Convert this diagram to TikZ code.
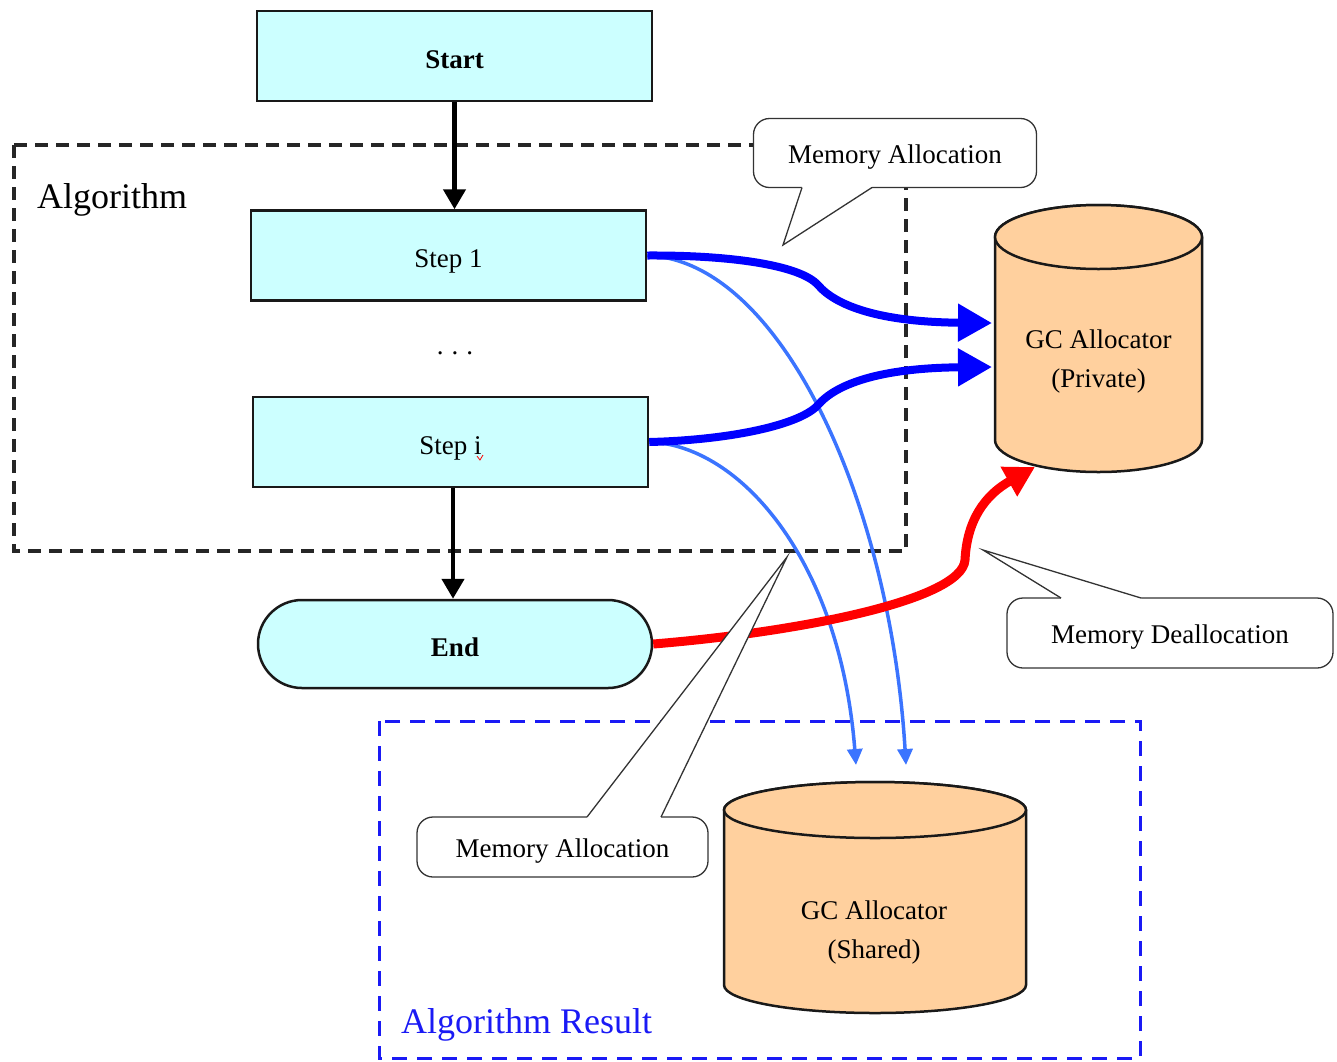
\documentclass[tikz,border=0pt]{standalone}
\usepackage{fontspec}
\setmainfont{Liberation Serif}
\usetikzlibrary{arrows.meta,shapes.misc,calc}
\definecolor{boxcyan}{HTML}{CCFFFF}
\definecolor{peach}{HTML}{FFD09E}
\definecolor{thickblue}{HTML}{0000FF}
\definecolor{lightblue}{HTML}{3B74FF}
\definecolor{resblue}{HTML}{1A1AF5}
\begin{document}
\begin{tikzpicture}[x=1pt,y=-1pt,
  txt/.style={font=\fontsize{27}{40}\selectfont},
  bigtxt/.style={font=\fontsize{36}{40}\selectfont},
  flowbox/.style={draw=black!90, line width=2.5pt, fill=boxcyan, minimum width=395pt, minimum height=90pt, inner sep=0pt, txt, text height=27pt, text depth=3pt},
  endbox/.style={rounded rectangle, draw=black!90, line width=2.5pt, fill=boxcyan, minimum width=394pt, minimum height=88pt, inner sep=0pt, txt, text height=27pt, text depth=3pt},
  cyl/.style={draw=black!90, line width=2.5pt, fill=peach},
  algbox/.style={draw=black!85, line width=3.5pt, dash pattern=on 13pt off 8pt},
  resbox/.style={draw=resblue, line width=3pt, dash pattern=on 15pt off 10pt},
  flowarrow/.style={draw=black, line width=4.5pt, -{Triangle[length=20pt,width=22pt]}},
  bluethick/.style={draw=thickblue, line width=8pt, -{Triangle[length=34pt,width=36pt]}},
  bluethin/.style={draw=lightblue, line width=3.5pt, -{Triangle[length=16pt,width=15pt]}},
  redarrow/.style={draw=red, line width=9pt, -{Triangle[length=30pt,width=32pt]}},
  callout/.style={draw=black!80, line width=1.3pt, fill=white, rounded corners=16pt, inner sep=0pt, txt, text height=24pt, text depth=4pt},
  calline/.style={draw=black!80, line width=1.3pt, line join=miter}
]
\useasboundingbox (0,0) rectangle (1337,1061);

% dashed containers
\draw[algbox] (14,145) rectangle (906,551);
\node[bigtxt, anchor=base west, inner sep=0pt] (alglabel) at (37,208) {Algorithm};
\draw[resbox] (379,721) rectangle (1140,1058);
\node[bigtxt, anchor=base west, inner sep=0pt, text=resblue] (reslabel) at (401,1033) {Algorithm Result};

% private cylinder
\draw[cyl] (995,237) -- (995,440) arc (180:360:103.5pt and 32pt) -- (1202,237) arc (0:180:103.5pt and 32pt) -- cycle;
\draw[cyl] (1098.5,237) ellipse [x radius=103.5pt, y radius=32pt];
\node[txt, anchor=base] (privA) at (1098.5,348) {GC Allocator};
\node[txt, anchor=base] (privB) at (1098.5,387) {(Private)};

% shared cylinder
\draw[cyl] (724,810) -- (724,985) arc (180:360:151pt and 28pt) -- (1026,810) arc (0:180:151pt and 28pt) -- cycle;
\draw[cyl] (875,810) ellipse [x radius=151pt, y radius=28pt];
\node[txt, anchor=base] (sharedA) at (874,919) {GC Allocator};
\node[txt, anchor=base] (sharedB) at (874,958) {(Shared)};

% flow nodes
\node[flowbox] (start) at (454.5,56) {\textbf{Start}};
\node[flowbox] (s1) at (448.5,255.5) {Step 1};
\node[txt, anchor=base] (dots) at (455,354) {.\hspace{8pt}.\hspace{8pt}.};
\node[flowbox] (si) at (450.5,442) {Step i};
\draw[red, line width=0.8pt] (477,456) -- (480,460) -- (483,455);
\node[endbox] (end) at (455,644) {\textbf{End}};

% coordinates for free arrow ends
\coordinate (p1) at (992,323);
\coordinate (p2) at (992,367);
\coordinate (sh1) at (906,765);
\coordinate (sh2) at (856,765);
\coordinate (pd) at (1035,467);

% flow arrows
\draw[flowarrow] (start.south) -- (start.south |- s1.north);
\draw[flowarrow] (si.south -| 453,0) -- (end.north -| 453,0);

% memory arrows
\draw[bluethin] (s1.east) .. controls (780,260) and (890,500) .. (sh1);
\draw[bluethin] (si.east) .. controls (740,445) and (840,560) .. (sh2);
\draw[bluethick] (s1.east) .. controls (730,255) and (800,265) .. (818,285) .. controls (836,306) and (880,322) .. (p1);
\draw[bluethick] (si.east) .. controls (730,440) and (800,425) .. (818,405) .. controls (836,384) and (880,368) .. (p2);
\draw[redarrow] (end.east) .. controls (800,632) and (962,600) .. (965,560) .. controls (967,520) and (985,495) .. (pd);

% callouts
\node[callout, minimum width=283pt, minimum height=69pt] (ma1) at (895,153) {Memory Allocation};
\fill[white] (802,180) -- (802,187) -- (783,245) -- (872,187) -- (872,180) -- cycle;
\draw[calline] (802,187.5) -- (783,245) -- (872,187.5);

\node[callout, minimum width=291pt, minimum height=60pt] (ma2) at (562.5,847) {Memory Allocation};
\fill[white] (587,823) -- (587,817) -- (787,557) -- (661,817) -- (661,823) -- cycle;
\draw[calline] (587,817) -- (787,557) -- (661,817);

\node[callout, minimum width=326pt, minimum height=70pt] (md) at (1170,633) {Memory Deallocation};
\fill[white] (1061,604) -- (1061,598) -- (983,550) -- (1141,598) -- (1141,604) -- cycle;
\draw[calline] (1061,598) -- (983,550) -- (1141,598);
\end{tikzpicture}
\end{document}
